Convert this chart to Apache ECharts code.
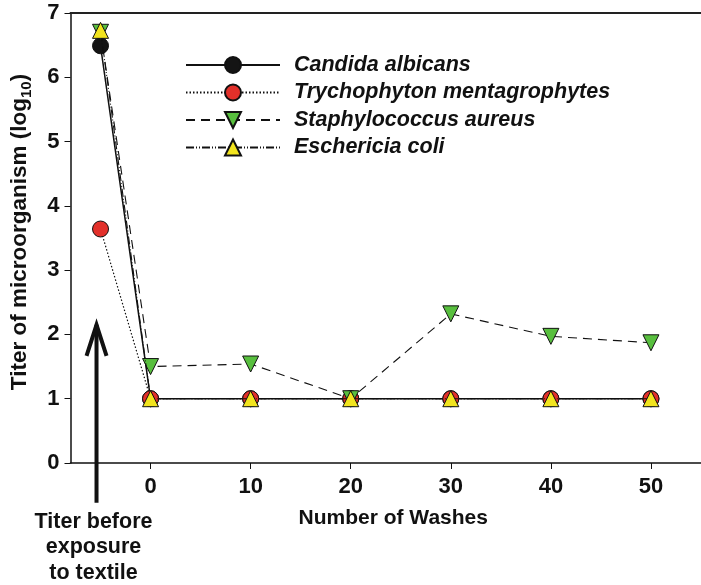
<!DOCTYPE html>
<html>
<head>
<meta charset="utf-8">
<script src="https://cdn.jsdelivr.net/npm/echarts@6/dist/echarts.min.js"></script>
<style>html,body{margin:0;padding:0;background:#fff}#c{width:701px;height:585px}</style>
</head>
<body>
<div id="c"></div>
<script>
// x positions: the "before exposure" point is placed at -5 on the wash axis
const washes = [-5, 0, 10, 20, 30, 40, 50];
const xTickValues = [0, 10, 20, 30, 40, 50];
const candida = [6.49, 1, 1, 1, 1, 1, 1];
const trychophyton = [3.64, 1, 1, 1, 1, 1, 1];
const staphylococcus = [6.70, 1.50, 1.54, 1.0, 2.32, 1.97, 1.87];
const ecoli = [6.73, 1, 1, 1, 1, 1, 1];
const seriesNames = ['Candida albicans', 'Trychophyton mentagrophytes', 'Staphylococcus aureus', 'Eschericia coli'];
const annotationLines = ['Titer before', 'exposure', 'to textile'];
const arrowX = -5.4, arrowTop = 2.18, arrowBottom = -0.62;

const FONT = '"Liberation Sans", Arial, Helvetica, sans-serif';
const pairs = arr => washes.map((x, i) => [x, arr[i]]);

const chart = echarts.init(document.getElementById('c'), null, {renderer: 'canvas'});
const baseSeries = (name, data, symbol, color, lineType, lineWidth, z) => ({
  name, type: 'line', data: pairs(data), symbol, symbolSize: 16,
  symbolKeepAspect: true,
  itemStyle: {color, borderColor: '#111', borderWidth: 1},
  lineStyle: {color: '#111', width: lineWidth, type: lineType},
  emphasis: {disabled: true}, animation: false, z
});

chart.setOption({
  animation: false,
  grid: {left: 67, right: 0, top: 13, bottom: 122, containLabel: false},
  legend: {
    orient: 'vertical', left: 185, top: 54, padding: 0,
    itemWidth: 94, itemHeight: 20, itemGap: 5.5,
    textStyle: {fontFamily: FONT, fontSize: 21.5, lineHeight: 20, fontWeight: 'bold', fontStyle: 'italic', color: '#111', padding: [0, 0, 0, 9]},
    data: seriesNames
  },
  xAxis: [{
    type: 'value', min: -8, max: 55, position: 'bottom',
    axisLine: {lineStyle: {color: '#111', width: 1.5}},
    axisTick: {show: true, customValues: xTickValues, length: 6, lineStyle: {color: '#111'}},
    axisLabel: {customValues: xTickValues, margin: 13, fontFamily: FONT, fontSize: 22, fontWeight: 'bold', color: '#111'},
    splitLine: {show: false},
    name: 'Number of Washes', nameLocation: 'middle', nameGap: 45,
    nameTextStyle: {fontFamily: FONT, fontSize: 21, fontWeight: 'bold', color: '#111', padding: [0, 0, 0, 15]}
  }, {
    type: 'value', min: -8, max: 55, position: 'top',
    axisLine: {show: true, onZero: false, lineStyle: {color: '#222', width: 2}},
    axisTick: {show: false}, axisLabel: {show: false}, splitLine: {show: false}
  }],
  yAxis: {
    type: 'value', min: 0, max: 7, interval: 1,
    axisLine: {show: true, onZero: false, lineStyle: {color: '#111', width: 1.5}},
    axisTick: {show: true, length: 6, lineStyle: {color: '#111'}},
    axisLabel: {margin: 11, fontFamily: FONT, fontSize: 22, fontWeight: 'bold', color: '#111'},
    splitLine: {show: false},
    name: '{a|Titer of microorganism (log}{s|10}{a|)}', nameLocation: 'middle', nameGap: 36,
    nameTextStyle: {
      fontFamily: FONT, fontSize: 22.5, fontWeight: 'bold', color: '#111', padding: [0, 0, 0, 12],
      rich: {
        a: {fontFamily: FONT, fontSize: 22.5, fontWeight: 'bold', color: '#111', lineHeight: 30},
        s: {fontFamily: FONT, fontSize: 15, fontWeight: 'bold', color: '#111', lineHeight: 30, verticalAlign: 'bottom'}
      }
    }
  },
  series: [
    baseSeries(seriesNames[0], candida, 'circle', '#141414', 'solid', 1.5, 2),
    baseSeries(seriesNames[1], trychophyton, 'circle', '#e2302a', [1.5, 2], 1.2, 3),
    Object.assign(baseSeries(seriesNames[2], staphylococcus, 'triangle', '#58bf3e', [9, 6], 1.1, 4), {symbolRotate: 180}),
    baseSeries(seriesNames[3], ecoli, 'triangle', '#f2e41e', [8, 2, 1, 2, 1, 2], 1.1, 5)
  ]
});

function drawAnnotation() {
  const px = chart.convertToPixel({xAxisIndex: 0, yAxisIndex: 0}, [arrowX, arrowTop]);
  const pb = chart.convertToPixel({xAxisIndex: 0, yAxisIndex: 0}, [arrowX, arrowBottom]);
  const x = px[0], yTop = px[1], yBot = pb[1];
  const els = [
    {type: 'line', shape: {x1: x, y1: yBot, x2: x, y2: yTop + 2}, style: {stroke: '#111', lineWidth: 4}, z: 10},
    {type: 'polyline', shape: {points: [[x - 10, yTop + 33], [x, yTop + 2], [x + 10, yTop + 33]]}, style: {stroke: '#111', lineWidth: 4, fill: null, lineJoin: 'miter'}, z: 10}
  ];
  annotationLines.forEach((t, i) => {
    els.push({type: 'text', x: x - 3, y: 522 + i * 25.5, style: {text: t, fontFamily: FONT, fontSize: 21.5, fontWeight: 'bold', fill: '#111', align: 'center', verticalAlign: 'middle'}, z: 10});
  });
  chart.setOption({graphic: els});
}
drawAnnotation();
</script>
</body>
</html>
